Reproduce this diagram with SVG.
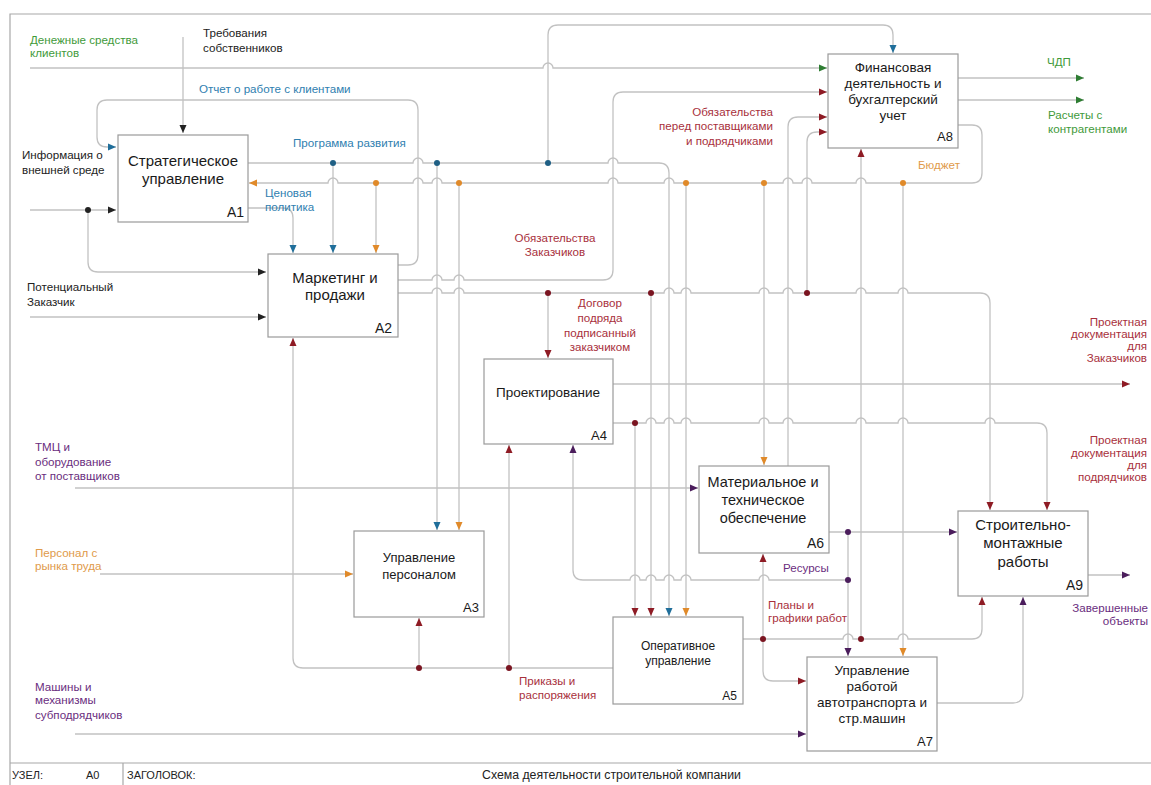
<svg xmlns="http://www.w3.org/2000/svg" width="1151" height="785" viewBox="0 0 1151 785">
<style>
.bg{fill:#ffffff}
.frame{stroke:#a8a8a8;stroke-width:1.2;fill:none}
.box{fill:#ffffff;stroke:#9a9a9a;stroke-width:1.2}
.bt{font-family:"Liberation Sans",Arial,sans-serif;font-size:14px;fill:#1a1a1a;text-anchor:middle}
.num{font-family:"Liberation Sans",Arial,sans-serif;font-size:14px;fill:#1a1a1a;text-anchor:end}
.ln{fill:none;stroke:#c2c2c2;stroke-width:1.3}
.lb{font-family:"Liberation Sans",Arial,sans-serif;font-size:11.6px}
.k{fill:#222}.g{fill:#3f9a3a}.b{fill:#2f80b0}.o{fill:#e09a4a}.r{fill:#a8303c}.p{fill:#6a2d7e}
.mg{marker-end:url(#ag)}.mb{marker-end:url(#ab)}.mo{marker-end:url(#ao)}.mr{marker-end:url(#ar)}.mp{marker-end:url(#ap)}.mk{marker-end:url(#ak)}
.dk{fill:#222}.db{fill:#1f5f84}.do{fill:#e08a2a}.dr{fill:#7a1420}.dp{fill:#4b1d5c}
.ft{font-family:"Liberation Sans",Arial,sans-serif;font-size:11px;fill:#222}
</style>
<defs>
<marker id="ag" markerUnits="userSpaceOnUse" markerWidth="8" markerHeight="8" viewBox="0 0 8 8" refX="8" refY="4" orient="auto"><path d="M0,0.5 L8,4 L0,7.5 z" fill="#2e7d32"/></marker>
<marker id="ab" markerUnits="userSpaceOnUse" markerWidth="8" markerHeight="8" viewBox="0 0 8 8" refX="8" refY="4" orient="auto"><path d="M0,0.5 L8,4 L0,7.5 z" fill="#1f6e9a"/></marker>
<marker id="ao" markerUnits="userSpaceOnUse" markerWidth="8" markerHeight="8" viewBox="0 0 8 8" refX="8" refY="4" orient="auto"><path d="M0,0.5 L8,4 L0,7.5 z" fill="#e08a2a"/></marker>
<marker id="ar" markerUnits="userSpaceOnUse" markerWidth="8" markerHeight="8" viewBox="0 0 8 8" refX="8" refY="4" orient="auto"><path d="M0,0.5 L8,4 L0,7.5 z" fill="#8e1b24"/></marker>
<marker id="ap" markerUnits="userSpaceOnUse" markerWidth="8" markerHeight="8" viewBox="0 0 8 8" refX="8" refY="4" orient="auto"><path d="M0,0.5 L8,4 L0,7.5 z" fill="#4b1d5c"/></marker>
<marker id="ak" markerUnits="userSpaceOnUse" markerWidth="8" markerHeight="8" viewBox="0 0 8 8" refX="8" refY="4" orient="auto"><path d="M0,0.5 L8,4 L0,7.5 z" fill="#222"/></marker>
</defs>
<rect class="bg" x="0" y="0" width="1151" height="785"/>
<g id="frame">
<path class="frame" d="M10,785 V14 H1151"/>
<path class="frame" d="M10,763 H1151 M123,763 V785"/>
<text class="ft" x="12" y="779">УЗЕЛ:</text>
<text class="ft" x="86" y="779">A0</text>
<text class="ft" x="127" y="779">ЗАГОЛОВОК:</text>
<text class="ft" x="482" y="779" style="font-size:12.3px">Схема деятельности строительной компании</text>
</g>
<g id="connectors">
<!-- green -->
<path class="ln mg" d="M30,68 H543 a5,5 0 0 1 10,0 H827"/>
<path class="ln mg" d="M958,78 H1084"/>
<path class="ln mg" d="M958,100 H1084"/>
<!-- black -->
<path class="ln mk" d="M183,37 V133"/>
<path class="ln mk" d="M30,210 H116"/>
<path class="ln mk" d="M88,210 V262 Q88,272 98,272 H266"/>
<path class="ln mk" d="M30,317 H266"/>
<!-- blue -->
<path class="ln mb" d="M398,265 H408 Q418,265 418,255 V110 Q418,100 408,100 H107 Q97,100 97,110 V137 Q97,147 107,147 H116"/>
<path class="ln mb" d="M248,163 H413 a5,5 0 0 1 10,0 H608 a5,5 0 0 1 10,0 H659 Q669,163 669,173 V616"/>
<path class="ln mb" d="M333,163 V253"/>
<path class="ln mb" d="M437,163 V530"/>
<path class="ln mb" d="M548,163 V35 Q548,25 558,25 H883 Q893,25 893,35 V53"/>
<path class="ln mb" d="M248,208 H283 Q293,208 293,218 V253"/>
<!-- orange -->
<path class="ln mo" d="M958,125 H972 Q982,125 982,135 V173 Q982,183 972,183 H866 a5,5 0 0 0 -10,0 H812 a5,5 0 0 0 -10,0 H793 a5,5 0 0 0 -10,0 H674 a5,5 0 0 0 -10,0 H618 a5,5 0 0 0 -10,0 H442 a5,5 0 0 0 -10,0 H423 a5,5 0 0 0 -10,0 H338 a5,5 0 0 0 -10,0 H249"/>
<path class="ln mo" d="M376,183 V253"/>
<path class="ln mo" d="M459,183 V530"/>
<path class="ln mo" d="M686,183 V616"/>
<path class="ln mo" d="M764,183 V465"/>
<path class="ln mo" d="M903,183 V656"/>
<path class="ln mo" d="M100,574 H353"/>
<!-- red -->
<path class="ln mr" d="M398,280 H432 a5,5 0 0 1 10,0 H454 a5,5 0 0 1 10,0 H603 Q613,280 613,270 V102 Q613,92 623,92 H827"/>
<path class="ln mr" d="M398,293 H432 a5,5 0 0 1 10,0 H454 a5,5 0 0 1 10,0 H664 a5,5 0 0 1 10,0 H681 a5,5 0 0 1 10,0 H759 a5,5 0 0 1 10,0 H783 a5,5 0 0 1 10,0 H856 a5,5 0 0 1 10,0 H898 a5,5 0 0 1 10,0 H980 Q990,293 990,303 V510"/>
<path class="ln mr" d="M548,293 V358"/>
<path class="ln mr" d="M651,293 V616"/>
<path class="ln mr" d="M807,293 V142 Q807,132 817,132 H827"/>
<path class="ln mr" d="M788,466 V127 Q788,117 798,117 H827"/>
<path class="ln mr" d="M613,384 H1130"/>
<path class="ln mr" d="M613,423 H646 a5,5 0 0 1 10,0 H664 a5,5 0 0 1 10,0 H681 a5,5 0 0 1 10,0 H759 a5,5 0 0 1 10,0 H783 a5,5 0 0 1 10,0 H856 a5,5 0 0 1 10,0 H898 a5,5 0 0 1 10,0 H985 a5,5 0 0 1 10,0 H1037 Q1047,423 1047,433 V510"/>
<path class="ln mr" d="M635,423 V616"/>
<path class="ln mr" d="M613,668 H303 Q293,668 293,658 V338"/>
<path class="ln mr" d="M419,668 V618"/>
<path class="ln mr" d="M509,668 V445"/>
<path class="ln mr" d="M743,639 H843 a5,5 0 0 1 10,0 H898 a5,5 0 0 1 10,0 H972 Q982,639 982,629 V597"/>
<path class="ln mr" d="M763,639 V554"/>
<path class="ln mr" d="M763,639 V671 Q763,681 773,681 H806"/>
<path class="ln mr" d="M861,639 V149"/>
<!-- purple -->
<path class="ln mp" d="M75,488 H698"/>
<path class="ln mp" d="M75,734 H806"/>
<path class="ln mp" d="M829,532 H957"/>
<path class="ln mp" d="M848,532 V656"/>
<path class="ln mp" d="M848,580 H769 a5,5 0 0 0 -10,0 H691 a5,5 0 0 0 -10,0 H674 a5,5 0 0 0 -10,0 H656 a5,5 0 0 0 -10,0 H640 a5,5 0 0 0 -10,0 H583 Q573,580 573,570 V445"/>
<path class="ln mp" d="M937,703 H1013 Q1023,703 1023,693 V597"/>
<path class="ln mp" d="M1088,575 H1130"/>
<!-- dots -->
<circle class="dk" cx="88" cy="210" r="3"/>
<circle class="db" cx="333" cy="163" r="3"/>
<circle class="db" cx="437" cy="163" r="3"/>
<circle class="db" cx="548" cy="163" r="3"/>
<circle class="do" cx="376" cy="183" r="3"/>
<circle class="do" cx="459" cy="183" r="3"/>
<circle class="do" cx="686" cy="183" r="3"/>
<circle class="do" cx="764" cy="183" r="3"/>
<circle class="do" cx="903" cy="183" r="3"/>
<circle class="dr" cx="548" cy="293" r="3"/>
<circle class="dr" cx="651" cy="293" r="3"/>
<circle class="dr" cx="807" cy="293" r="3"/>
<circle class="dr" cx="635" cy="423" r="3"/>
<circle class="dr" cx="419" cy="668" r="3"/>
<circle class="dr" cx="509" cy="668" r="3"/>
<circle class="dr" cx="763" cy="639" r="3"/>
<circle class="dr" cx="861" cy="639" r="3"/>
<circle class="dp" cx="848" cy="532" r="3"/>
<circle class="dp" cx="848" cy="580" r="3"/>
</g>
<g id="labels">
<text class="lb g" x="30" y="44">Денежные средства</text>
<text class="lb g" x="30" y="57">клиентов</text>
<text class="lb k" x="203" y="37">Требования</text>
<text class="lb k" x="203" y="52">собственников</text>
<text class="lb b" x="199" y="93">Отчет о работе с клиентами</text>
<text class="lb b" x="293" y="147">Программа развития</text>
<text class="lb k" x="22" y="159">Информация о</text>
<text class="lb k" x="22" y="174">внешней среде</text>
<text class="lb b" x="265" y="197">Ценовая</text>
<text class="lb b" x="265" y="211">политика</text>
<text class="lb r" x="773" y="116" text-anchor="end">Обязательства</text>
<text class="lb r" x="773" y="130" text-anchor="end">перед поставщиками</text>
<text class="lb r" x="773" y="145" text-anchor="end">и подрядчиками</text>
<text class="lb o" x="918" y="169">Бюджет</text>
<text class="lb g" x="1047" y="66">ЧДП</text>
<text class="lb g" x="1048" y="119">Расчеты с</text>
<text class="lb g" x="1048" y="133">контрагентами</text>
<text class="lb r" x="555" y="242" text-anchor="middle">Обязательства</text>
<text class="lb r" x="555" y="256" text-anchor="middle">Заказчиков</text>
<text class="lb k" x="27" y="291">Потенциальный</text>
<text class="lb k" x="27" y="306">Заказчик</text>
<text class="lb r" x="600" y="307" text-anchor="middle">Договор</text>
<text class="lb r" x="600" y="322" text-anchor="middle">подряда</text>
<text class="lb r" x="600" y="337" text-anchor="middle">подписанный</text>
<text class="lb r" x="600" y="351" text-anchor="middle">заказчиком</text>
<text class="lb r" x="1147" y="326" text-anchor="end">Проектная</text>
<text class="lb r" x="1147" y="338" text-anchor="end">документация</text>
<text class="lb r" x="1147" y="350" text-anchor="end">для</text>
<text class="lb r" x="1147" y="362" text-anchor="end">Заказчиков</text>
<text class="lb r" x="1147" y="444" text-anchor="end">Проектная</text>
<text class="lb r" x="1147" y="457" text-anchor="end">документация</text>
<text class="lb r" x="1147" y="469" text-anchor="end">для</text>
<text class="lb r" x="1147" y="481" text-anchor="end">подрядчиков</text>
<text class="lb p" x="35" y="451">ТМЦ и</text>
<text class="lb p" x="35" y="466">оборудование</text>
<text class="lb p" x="35" y="480">от поставщиков</text>
<text class="lb o" x="35" y="557">Персонал с</text>
<text class="lb o" x="35" y="570">рынка труда</text>
<text class="lb p" x="35" y="691">Машины и</text>
<text class="lb p" x="35" y="704">механизмы</text>
<text class="lb p" x="35" y="719">субподрядчиков</text>
<text class="lb p" x="783" y="572">Ресурсы</text>
<text class="lb r" x="768" y="609">Планы и</text>
<text class="lb r" x="768" y="622">графики работ</text>
<text class="lb r" x="519" y="685">Приказы и</text>
<text class="lb r" x="519" y="699">распоряжения</text>
<text class="lb p" x="1148" y="612" text-anchor="end">Завершенные</text>
<text class="lb p" x="1148" y="625" text-anchor="end">объекты</text>
</g>
<g id="A1">
<rect class="box" x="118" y="135" width="130" height="87"/>
<text class="bt" x="183" y="166" style="font-size:15px">Стратегическое</text>
<text class="bt" x="183" y="184" style="font-size:15px">управление</text>
<text class="num" x="244" y="217">A1</text>
</g>
<g id="A2">
<rect class="box" x="268" y="254" width="130" height="83"/>
<text class="bt" x="335" y="283" style="font-size:15px">Маркетинг и</text>
<text class="bt" x="335" y="300" style="font-size:15px">продажи</text>
<text class="num" x="392" y="333">A2</text>
</g>
<g id="A3">
<rect class="box" x="354" y="531" width="130" height="86"/>
<text class="bt" x="419" y="562" style="font-size:13px">Управление</text>
<text class="bt" x="419" y="579" style="font-size:13px">персоналом</text>
<text class="num" x="479" y="612" style="font-size:13px">A3</text>
</g>
<g id="A4">
<rect class="box" x="484" y="359" width="129" height="85"/>
<text class="bt" x="548" y="397" style="font-size:13.5px">Проектирование</text>
<text class="num" x="607" y="440" style="font-size:13px">A4</text>
</g>
<g id="A5">
<rect class="box" x="613" y="617" width="130" height="87"/>
<text class="bt" x="678" y="650" style="font-size:12px">Оперативное</text>
<text class="bt" x="678" y="665" style="font-size:12px">управление</text>
<text class="num" x="737" y="700" style="font-size:12px">A5</text>
</g>
<g id="A6">
<rect class="box" x="699" y="466" width="130" height="87"/>
<text class="bt" x="763" y="487" style="font-size:14.5px">Материальное и</text>
<text class="bt" x="763" y="505" style="font-size:14.5px">техническое</text>
<text class="bt" x="763" y="523" style="font-size:14.5px">обеспечение</text>
<text class="num" x="824" y="548">A6</text>
</g>
<g id="A7">
<rect class="box" x="807" y="657" width="130" height="94"/>
<text class="bt" x="872" y="675" style="font-size:13.5px">Управление</text>
<text class="bt" x="872" y="691" style="font-size:13.5px">работой</text>
<text class="bt" x="872" y="707" style="font-size:13.5px">автотранспорта и</text>
<text class="bt" x="872" y="723" style="font-size:13.5px">стр.машин</text>
<text class="num" x="933" y="746" style="font-size:13px">A7</text>
</g>
<g id="A8">
<rect class="box" x="828" y="54" width="130" height="94"/>
<text class="bt" x="893" y="72" style="font-size:13.5px">Финансовая</text>
<text class="bt" x="893" y="88" style="font-size:13.5px">деятельность и</text>
<text class="bt" x="893" y="104" style="font-size:13.5px">бухгалтерский</text>
<text class="bt" x="893" y="120" style="font-size:13.5px">учет</text>
<text class="num" x="953" y="141" style="font-size:13px">A8</text>
</g>
<g id="A9">
<rect class="box" x="958" y="511" width="130" height="85"/>
<text class="bt" x="1023" y="530" style="font-size:15px">Строительно-</text>
<text class="bt" x="1023" y="548" style="font-size:15px">монтажные</text>
<text class="bt" x="1023" y="567" style="font-size:15px">работы</text>
<text class="num" x="1083" y="590">A9</text>
</g>
</svg>
